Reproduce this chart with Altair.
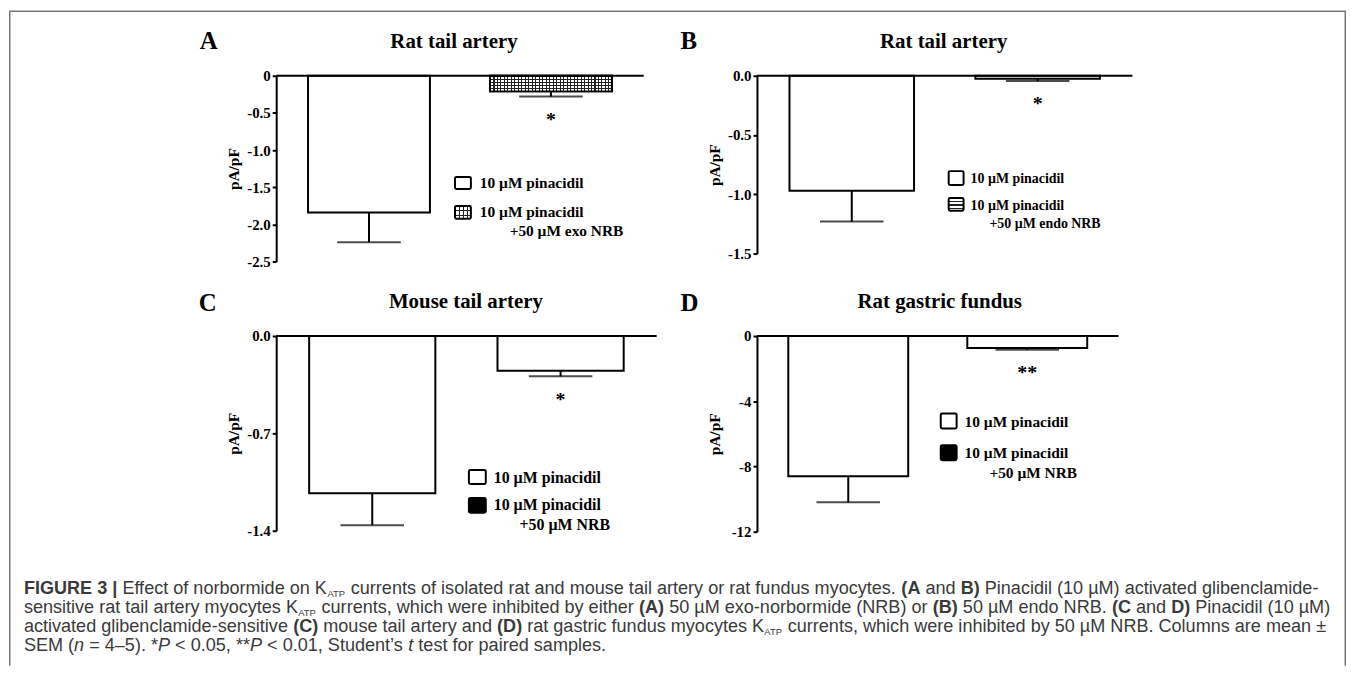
import json
import altair as alt
import pandas as pd

# ------------------------------------------------------------------ data
conditions = ["10 µM pinacidil", "10 µM pinacidil + 50 µM NRB"]

A_mean = [-1.84, -0.21]
A_sem_end = [-2.24, -0.28]
B_mean = [-0.97, -0.025]
B_sem_end = [-1.23, -0.045]
C_mean = [-1.13, -0.25]
C_sem_end = [-1.36, -0.29]
D_mean = [-8.6, -0.73]
D_sem_end = [-10.2, -0.85]

A_ticks = [0, -0.5, -1.0, -1.5, -2.0, -2.5]
A_tick_labels = ["0", "-0.5", "-1.0", "-1.5", "-2.0", "-2.5"]
B_ticks = [0, -0.5, -1.0, -1.5]
B_tick_labels = ["0.0", "-0.5", "-1.0", "-1.5"]
C_ticks = [0, -0.7, -1.4]
C_tick_labels = ["0.0", "-0.7", "-1.4"]
D_ticks = [0, -4, -8, -12]
D_tick_labels = ["0", "-4", "-8", "-12"]

panel_letters = ["A", "B", "C", "D"]
panel_titles = ["Rat tail artery", "Rat tail artery", "Mouse tail artery", "Rat gastric fundus"]
legend_line1 = "10 µM pinacidil"
legend_line2 = "10 µM pinacidil"
legend_line3 = ["+50 µM exo NRB", "+50 µM endo NRB", "+50 µM NRB", "+50 µM NRB"]
significance = ["*", "*", "*", "**"]
y_title = "pA/pF"

caption_lines = [
    [("FIGURE 3 | ", "b"), ("Effect of norbormide on K", "n"), ("ATP", "s"),
     (" currents of isolated rat and mouse tail artery or rat fundus myocytes. ", "n"),
     ("(A", "b"), (" and ", "n"), ("B)", "b"), (" Pinacidil (10 µM) activated glibenclamide-", "n")],
    [("sensitive rat tail artery myocytes K", "n"), ("ATP", "s"),
     (" currents, which were inhibited by either ", "n"), ("(A)", "b"),
     (" 50 µM exo-norbormide (NRB) or ", "n"), ("(B)", "b"), (" 50 µM endo NRB. ", "n"),
     ("(C", "b"), (" and ", "n"), ("D)", "b"), (" Pinacidil (10 µM)", "n")],
    [("activated glibenclamide-sensitive ", "n"), ("(C)", "b"), (" mouse tail artery and ", "n"),
     ("(D)", "b"), (" rat gastric fundus myocytes K", "n"), ("ATP", "s"),
     (" currents, which were inhibited by 50 µM NRB. Columns are mean ±", "n")],
    [("SEM (", "n"), ("n", "i"), (" = 4–5). *", "n"), ("P", "i"), (" < 0.05, **", "n"),
     ("P", "i"), (" < 0.01, Student’s ", "n"), ("t", "i"), (" test for paired samples.", "n")],
]

# ------------------------------------------------------------------ styling / layout
SERIF = "Liberation Serif"
SANS = "Liberation Sans"
one = pd.DataFrame({"k": [0]})

LAYOUT = {
    "A": dict(w=370, h=187, tx=179, lx=-77, ly=-27, ty=-28,
              sqx=(180, 196), sq1=(102, 114), sq2=(131, 144), textx=205, texty=(108, 137),
              t3=(235, 156), fs=15.5, kind="grid"),
    "B": dict(w=378, h=179, tx=188, lx=-77, ly=-27, ty=-28,
              sqx=(193, 208), sq1=(96, 110), sq2=(123, 136), textx=215, texty=(104, 131),
              t3=(234, 149), fs=14, kind="hstripes"),
    "C": dict(w=383, h=196, tx=191, lx=-78, ly=-25, ty=-28,
              sqx=(194, 211), sq1=(135, 149), sq2=(163, 178), textx=219, texty=(143, 170),
              t3=(245, 190), fs=16, kind="black"),
    "D": dict(w=364, h=197, tx=184, lx=-77, ly=-25, ty=-28,
              sqx=(185, 201), sq1=(78, 93), sq2=(110, 125), textx=209, texty=(87, 118),
              t3=(234, 138), fs=15.5, kind="black"),
}


def stripes(n, frac, color, bg, horizontal):
    stops = []
    for k in range(n):
        a, b, c = k / n, (k + frac) / n, (k + 1) / n
        stops += [{"offset": a, "color": color}, {"offset": b, "color": color},
                  {"offset": b, "color": bg}, {"offset": c, "color": bg}]
    g = {"gradient": "linear", "stops": stops}
    if horizontal:
        g.update(x1=0, x2=0, y1=0, y2=1)
    else:
        g.update(x1=0, x2=1, y1=0, y2=0)
    return g


def txt(text, x, y, size, align="left", baseline="alphabetic", weight="bold",
        font=SERIF, color="black", style="normal"):
    return alt.Chart(one).mark_text(
        text=text, align=align, baseline=baseline, fontSize=size, fontWeight=weight,
        font=font, color=color, fontStyle=style
    ).encode(x=alt.value(x), y=alt.value(y))


def rect(x0, x1, y0, y1, fill, sw=0, opacity=1):
    return alt.Chart(one).mark_rect(
        fill=fill, stroke="black", strokeWidth=sw, fillOpacity=opacity, cornerRadius=1.5
    ).encode(x=alt.value(x0), x2=alt.value(x1), y=alt.value(y0), y2=alt.value(y1))


def swatch(x0, x1, y0, y1, kind):
    out = []
    if kind == "white":
        out.append(rect(x0, x1, y0, y1, "white", 2))
    elif kind == "black":
        out.append(rect(x0, x1, y0, y1, "black", 2))
    elif kind == "grid":
        out.append(rect(x0, x1, y0, y1, stripes(4, 0.3, "#222", "white", False)))
        out.append(rect(x0, x1, y0, y1, stripes(3, 0.3, "#222", "rgba(255,255,255,0)", True)))
        out.append(rect(x0, x1, y0, y1, "white", 2, opacity=0))
    elif kind == "hstripes":
        out.append(rect(x0, x1, y0, y1, stripes(4, 0.4, "#222", "white", True)))
        out.append(rect(x0, x1, y0, y1, "white", 2, opacity=0))
    return out


def panel(idx, key, mean, sem_end, ticks, tick_labels):
    L = LAYOUT[key]
    w, h = L["w"], L["h"]
    df = pd.DataFrame({"condition": conditions, "mean": mean, "sem_end": sem_end, "i": [0, 1]})
    base = alt.Chart(df)
    x = alt.X("condition:N", sort=conditions, axis=None,
              scale=alt.Scale(paddingInner=0.33, paddingOuter=0.175))
    ys = alt.Scale(domain=[ticks[-1], 0], nice=False, zero=False)
    lab = f"{json.dumps(tick_labels)}[indexof({json.dumps(ticks)}, datum.value)]"
    yax = alt.Axis(values=ticks, labelExpr=lab, title=y_title, grid=False, labelOverlap=False,
                   labelFont=SERIF, labelFontWeight="bold", labelFontSize=15, labelColor="black",
                   labelPadding=2, domainColor="black", domainWidth=2, tickColor="black",
                   tickWidth=2, tickSize=4, titleFont=SERIF, titleFontWeight="bold",
                   titleFontSize=15.5, titleColor="black", titleAngle=-90, titleX=-43,
                   titleY=h / 2, titleAlign="center", titleBaseline="middle")
    ymean = alt.Y("mean:Q", scale=ys, axis=yax)
    ysem = alt.Y("sem_end:Q", scale=ys, axis=yax)
    kind = L["kind"]
    fill2 = "black" if kind == "black" else "white"
    layers = [
        base.mark_bar(stroke="black", strokeWidth=2).encode(
            x=x, y=ymean,
            fill=alt.Fill("condition:N", scale=alt.Scale(domain=conditions, range=["white", fill2]),
                          legend=None))
    ]
    if kind == "grid":
        sel = base.transform_filter("datum.i == 1")
        layers.append(sel.mark_bar(fill=stripes(35, 0.3, "#222", "white", False), strokeWidth=0)
                      .encode(x=x, y=ymean))
        layers.append(sel.mark_bar(fill=stripes(5, 0.3, "#222", "rgba(255,255,255,0)", True),
                                   strokeWidth=0).encode(x=x, y=ymean))
        layers.append(sel.mark_bar(fillOpacity=0, stroke="black", strokeWidth=2)
                      .encode(x=x, y=ymean))
    layers.append(base.mark_rule(color="black", strokeWidth=2).encode(x=x, y=ymean, y2="sem_end:Q"))
    layers.append(base.mark_tick(color="black", thickness=2, size=64).encode(x=x, y=ysem))
    layers.append(alt.Chart(one).mark_rule(color="black", strokeWidth=2).encode(
        y=alt.Y(datum=0, scale=ys, axis=yax)))
    layers.append(base.transform_filter("datum.i == 1").mark_text(
        text=significance[idx], font=SERIF, fontWeight="bold", fontSize=20, baseline="alphabetic",
        dy=29.5, color="black").encode(x=x, y=ysem))
    # panel letter and title
    layers.append(txt(panel_letters[idx], L["lx"], L["ly"], 25))
    layers.append(txt(panel_titles[idx], L["tx"], L["ty"], 21, align="center"))
    # legend
    x0, x1 = L["sqx"]
    layers += swatch(x0, x1, L["sq1"][0], L["sq1"][1], "white")
    layers += swatch(x0, x1, L["sq2"][0], L["sq2"][1], kind)
    layers.append(txt(legend_line1, L["textx"], L["texty"][0], L["fs"], baseline="middle"))
    layers.append(txt(legend_line2, L["textx"], L["texty"][1], L["fs"], baseline="middle"))
    layers.append(txt(legend_line3[idx], L["t3"][0], L["t3"][1], L["fs"], baseline="middle"))
    return alt.layer(*layers).properties(width=w, height=h)


def spacer(w, h):
    return alt.Chart(pd.DataFrame({"k": []})).mark_point(opacity=0).encode(
        x=alt.value(0), y=alt.value(0)).properties(width=w, height=h)


# ------------------------------------------------------------------ caption + frame
REG = {' ': 278, '!': 278, '(': 333, ')': 333, '*': 389, '+': 584, ',': 278, '-': 333,
       '.': 278, '/': 278, ':': 278, ';': 278, '<': 584, '=': 584, '>': 584, '|': 260,
       'A': 667, 'B': 667, 'C': 722, 'D': 722, 'E': 667, 'F': 611, 'G': 778, 'H': 722,
       'I': 278, 'J': 500, 'K': 667, 'L': 556, 'M': 833, 'N': 722, 'O': 778, 'P': 667,
       'Q': 778, 'R': 722, 'S': 667, 'T': 611, 'U': 722, 'V': 667, 'W': 944, 'X': 667,
       'Y': 667, 'Z': 611, 'a': 556, 'b': 556, 'c': 500, 'd': 556, 'e': 556, 'f': 278,
       'g': 556, 'h': 556, 'i': 222, 'j': 222, 'k': 500, 'l': 222, 'm': 833, 'n': 556,
       'o': 556, 'p': 556, 'q': 556, 'r': 333, 's': 500, 't': 278, 'u': 556, 'v': 500,
       'w': 722, 'x': 500, 'y': 500, 'z': 500, 'µ': 576, '±': 584, '–': 556, '’': 222}
BOLD = dict(REG)
BOLD.update({'A': 722, 'B': 722, 'E': 667, 'F': 611, 'G': 778, 'I': 278, 'R': 722,
             'U': 722, '|': 280, 'C': 722, 'D': 722})
CAP_FS = 18.2
SUB_FS = 9.5
CAP_COLOR = "#3a3a3a"


def width(s, table, fs):
    return sum(table.get(ch, 556) for ch in s) * fs / 1000


# positions relative to the lower-left cell (origin = top of the second panel row)
cap_layers = []
baselines = [260, 279, 298, 317]
for line, yb in zip(caption_lines, baselines):
    xpos = 15
    for seg, sty in line:
        fs = SUB_FS if sty == "s" else CAP_FS
        table = BOLD if sty == "b" else REG
        lead = len(seg) - len(seg.lstrip(" "))
        xs = xpos + lead * 278 * fs / 1000
        cap_layers.append(txt(seg.strip(), xs, yb + (2.5 if sty == "s" else 0), fs,
                              weight="bold" if sty == "b" else "normal", font=SANS,
                              color=CAP_COLOR, style="italic" if sty == "i" else "normal"))
        xpos += width(seg, table, fs)

FRAME = "#777777"
TOP = -327
BOTTOM = 332
frame = [
    alt.Chart(one).mark_rule(color=FRAME, strokeWidth=1.5).encode(
        x=alt.value(0.75), y=alt.value(TOP), y2=alt.value(BOTTOM)),
    alt.Chart(one).mark_rule(color=FRAME, strokeWidth=1.5).encode(
        x=alt.value(1345.25), y=alt.value(TOP), y2=alt.value(BOTTOM)),
    alt.Chart(one).mark_rule(color=FRAME, strokeWidth=1.5).encode(
        x=alt.value(0), x2=alt.value(1346), y=alt.value(TOP)),
]
caption_cell = alt.layer(*frame, *cap_layers).properties(width=269, height=1)

# ------------------------------------------------------------------ assemble
pA = panel(0, "A", A_mean, A_sem_end, A_ticks, A_tick_labels)
pB = panel(1, "B", B_mean, B_sem_end, B_ticks, B_tick_labels)
pC = panel(2, "C", C_mean, C_sem_end, C_ticks, C_tick_labels)
pD = panel(3, "D", D_mean, D_sem_end, D_ticks, D_tick_labels)

chart = alt.concat(
    spacer(269, 1), pA, spacer(100.5, 1), pB,
    caption_cell, pC, spacer(100.5, 1), pD,
    columns=4, spacing={"row": 75, "column": 0}, bounds="flush",
    padding=0, background="white"
).configure_view(strokeWidth=0).configure_axis(labelOverlap=False)

chart.save("out.html", embed_options={"renderer": "svg", "actions": False})
